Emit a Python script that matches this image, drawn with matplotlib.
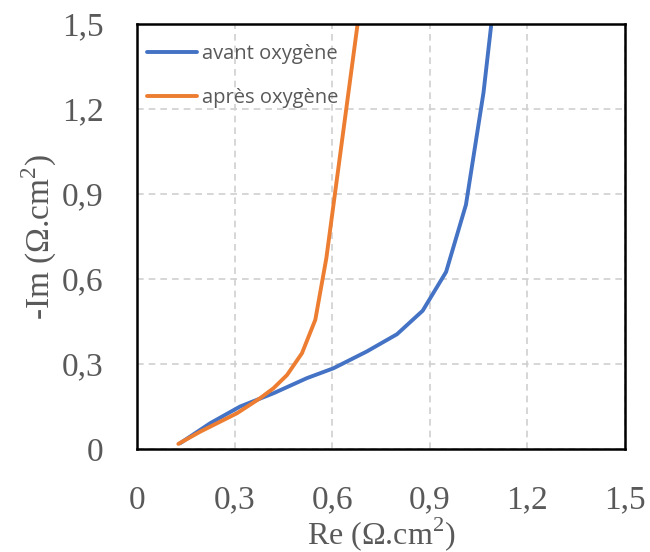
import matplotlib.pyplot as plt
from matplotlib.ticker import FuncFormatter, MultipleLocator

# Nyquist data
re_avant = [0.132, 0.225, 0.317, 0.42, 0.522, 0.604, 0.706, 0.799, 0.878, 0.950, 1.011, 1.065, 1.089]
im_avant = [0.020, 0.091, 0.150, 0.197, 0.250, 0.285, 0.344, 0.405, 0.488, 0.625, 0.862, 1.258, 1.5]

re_apres = [0.127, 0.194, 0.307, 0.378, 0.419, 0.461, 0.507, 0.548, 0.582, 0.678]
im_apres = [0.018, 0.061, 0.126, 0.179, 0.214, 0.261, 0.338, 0.456, 0.674, 1.5]

labels = ['avant oxygène', 'après oxygène']
colors = ['#4472C4', '#ED7D31']

plt.rcParams['mathtext.fontset'] = 'custom'
plt.rcParams['mathtext.rm'] = 'Liberation Serif'

fig = plt.figure(figsize=(6.5, 5.52), dpi=100)
ax = fig.add_axes([0.2108, 0.1866, 0.7508, 0.770])

ax.plot(re_avant, im_avant, color=colors[0], lw=2.8, label=labels[0], solid_capstyle='round')
ax.plot(re_apres, im_apres, color=colors[1], lw=2.8, label=labels[1], solid_capstyle='round')

ax.set_xlim(0, 1.5)
ax.set_ylim(0, 1.5)
ax.xaxis.set_major_locator(MultipleLocator(0.3))
ax.yaxis.set_major_locator(MultipleLocator(0.3))

fmt = FuncFormatter(lambda v, p: '0' if abs(v) < 1e-9 else f'{v:.1f}'.replace('.', ','))
ax.xaxis.set_major_formatter(fmt)
ax.yaxis.set_major_formatter(fmt)

ax.grid(True, color='#D0D0D0', linestyle=(0, (4, 3)), linewidth=1.2)
ax.set_axisbelow(True)
for s in ax.spines.values():
    s.set_linewidth(1.8)
    s.set_color('black')

ax.tick_params(axis='both', length=0, labelsize=24, labelcolor='#595959')
ax.tick_params(axis='x', pad=26)
ax.tick_params(axis='y', pad=24)
for t in ax.get_xticklabels() + ax.get_yticklabels():
    t.set_fontfamily('Liberation Serif')

ax.set_xlabel('Re (Ω.cm$^{2}$)', fontsize=23, color='#595959', family='Liberation Serif', labelpad=0)
ax.set_ylabel('-Im (Ω.cm$^{2}$)', fontsize=24, color='#595959', family='Liberation Serif', labelpad=2)

leg = ax.legend(loc='upper left', bbox_to_anchor=(-0.008, 0.985), frameon=False, handlelength=2.45,
                labelspacing=1.15, borderaxespad=0.3, handletextpad=0.25,
                prop={'family': 'Open Sans', 'size': 14.5})
for t in leg.get_texts():
    t.set_color('#595959')

fig.savefig('out.png', dpi=100)
